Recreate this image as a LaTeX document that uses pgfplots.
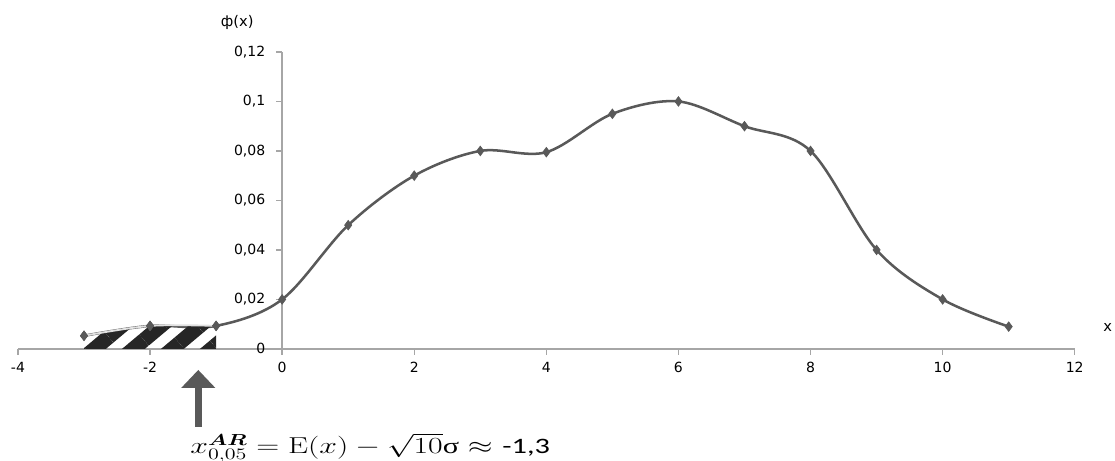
\documentclass[border=0pt]{standalone}
\usepackage{bm}
\usepackage{pgfplots}
\pgfplotsset{compat=1.18}
\usepackage[no-math]{fontspec}
\setmainfont{DejaVu Sans}
\newfontfamily\carlito{Carlito}
\newfontfamily\libserif{Liberation Serif}
\usetikzlibrary{patterns.meta,arrows.meta}
\definecolor{curve}{HTML}{595959}
\definecolor{axisgray}{HTML}{A6A6A6}
\begin{document}
\begin{tikzpicture}
\begin{axis}[
  scale only axis,
  width=792.75pt, height=222.75pt,
  xmin=-4, xmax=12, ymin=0, ymax=0.12,
  axis lines=middle,
  axis line style={-, axisgray, line width=1.1pt},
  hide obscured x ticks=false, hide obscured y ticks=false,
  tick align=outside,
  major tick length=4.5pt,
  tick style={axisgray, line width=1pt},
  xtick={-4,-2,0,2,4,6,8,10,12},
  xticklabels={-4,-2,0,2,4,6,8,10,12},
  ytick={0,0.02,0.04,0.06,0.08,0.1,0.12},
  yticklabels={0,{0,02},{0,04},{0,06},{0,08},{0,1},{0,12}},
  xticklabel style={font=\fontsize{10.5}{12}\selectfont, inner sep=2pt, yshift=-3pt},
  yticklabel style={font=\fontsize{10.5}{12}\selectfont, inner sep=2pt, xshift=-6pt},
  clip=false,
]
% full curve
\addplot[curve, line width=1.9pt, smooth, tension=0.55, mark=diamond*, mark size=3.6pt, mark options={fill=curve, draw=curve, line width=0.5pt}]
 coordinates {(-3,0.0053)(-2,0.0093)(-1,0.0093)(0,0.02)(1,0.05)(2,0.07)(3,0.08)(4,0.0795)(5,0.095)(6,0.1)(7,0.09)(8,0.08)(9,0.04)(10,0.02)(11,0.009)};
% hatched region
\addplot[draw=none, pattern={Lines[angle=40, distance=18.8pt, line width=11pt]}, pattern color=black!85, smooth, tension=0.55]
 coordinates {(-3,0.0053)(-2,0.0093)(-1,0.0093)} \closedcycle;
\addplot[black!12, line width=1.4pt, smooth, tension=0.55]
 coordinates {(-3,0.0053)(-2,0.0093)(-1,0.0093)};
\addplot[only marks, curve, mark=diamond*, mark size=3.6pt, mark options={fill=curve, draw=curve}]
 coordinates {(-3,0.0053)(-2,0.0093)(-1,0.0093)};
% labels
\node[font=\fontsize{11}{13}\selectfont] at (axis cs:-0.68,0.1321) {ф(x)};
\node[font=\fontsize{11}{13}\selectfont] at (axis cs:12.5,0.0085) {x};
\draw[curve, line width=5.25pt, -{Triangle[width=24.75pt,length=13.5pt]}] (axis cs:-1.27,-0.0315) -- (axis cs:-1.27,-0.0085);
\node[anchor=base west, inner sep=0pt, yshift=-3pt, font=\fontsize{16.5}{20}\selectfont] at (axis cs:-1.393,-0.0408)
  {\scalebox{1.38}[1]{$x^{\bm{AR}}_{0,05} = \mathrm{E}(x) - \sqrt{10}\mbox{\libserif σ} \approx$ {\carlito -1,3}}};
\coordinate (bl) at (axis cs:-4.272,-0.04525);
\coordinate (tr) at (axis cs:12.61,0.1410);
\end{axis}
\pgfresetboundingbox
\path (bl) rectangle (tr);
\end{tikzpicture}
\end{document}
